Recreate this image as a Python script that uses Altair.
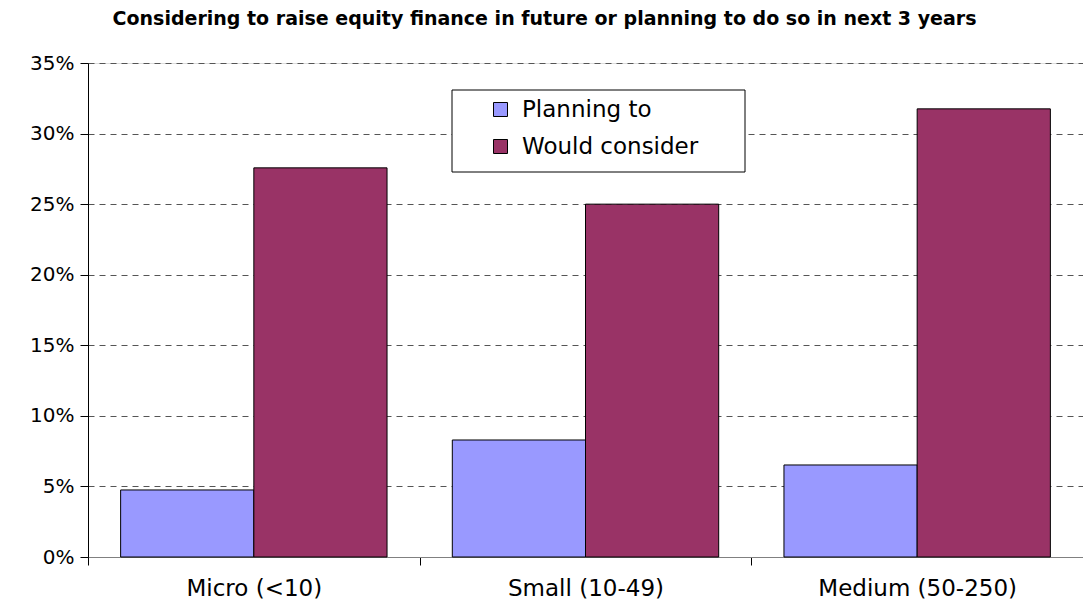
import altair as alt
import pandas as pd

categories = ["Micro (<10)", "Small (10-49)", "Medium (50-250)"]
series = ["Planning to", "Would consider"]
planning = [0.0475, 0.0829, 0.0652]
consider = [0.2757, 0.2500, 0.3175]
colors = ["#9999FF", "#993366"]

rows = []
for c, p, w in zip(categories, planning, consider):
    rows.append({"cat": c, "series": series[0], "val": p})
    rows.append({"cat": c, "series": series[1], "val": w})
df = pd.DataFrame(rows)

FONT = "DejaVu Sans"

bars = alt.Chart(df).mark_bar(stroke="black", strokeWidth=1).encode(
    x=alt.X("cat:N", sort=categories, title=None,
            scale=alt.Scale(paddingInner=0, paddingOuter=0),
            axis=alt.Axis(labelAngle=0, labelFontSize=23, labelFont=FONT, labelColor="black",
                          labelPadding=12, labelLimit=1000, tickBand="extent", tickSize=8,
                          tickColor="black", domainColor="#808080", grid=False)),
    xOffset=alt.XOffset("series:N", sort=series,
                        scale=alt.Scale(paddingInner=0, paddingOuter=0.245)),
    y=alt.Y("val:Q", title=None,
            scale=alt.Scale(domain=[0, 0.35], nice=False),
            axis=alt.Axis(format=".0%", values=[0, 0.05, 0.1, 0.15, 0.2, 0.25, 0.3, 0.35],
                          labelFontSize=20, labelFont=FONT, labelColor="black", labelPadding=6,
                          tickSize=8, tickColor="black", domainColor="black",
                          grid=True, gridColor="#555555", gridDash=[6, 5], gridWidth=1)),
    color=alt.Color("series:N", sort=series,
                    scale=alt.Scale(domain=series, range=colors),
                    legend=alt.Legend(title=None, orient="none", legendX=401, legendY=35,
                                      symbolType="square", symbolSize=196,
                                      symbolStrokeColor="black", symbolStrokeWidth=1,
                                      labelFontSize=23, labelFont=FONT, labelColor="black",
                                      labelOffset=10, labelLimit=1000, rowPadding=13, padding=0,
                                      strokeColor="transparent")),
)

box = alt.Chart(pd.DataFrame({"k": [0]})).mark_rect(
    fill="white", stroke="black", strokeWidth=1
).encode(
    x=alt.value(364), x2=alt.value(657), y=alt.value(27), y2=alt.value(109)
)

chart = alt.layer(bars, box).properties(
    width=995, height=494,
    autosize=alt.AutoSizeParams(type="none"),
    padding={"left": 80, "top": 55, "right": 0, "bottom": 45},
    title=alt.TitleParams("Considering to raise equity finance in future or planning to do so in next 3 years",
                          fontSize=19, font="DejaVu Sans", fontWeight="bold", color="black",
                          anchor="middle", dx=-41, offset=24),
).configure_view(stroke=None).configure(background="white")

chart.save("out.html", embed_options={"renderer": "svg", "actions": False})
